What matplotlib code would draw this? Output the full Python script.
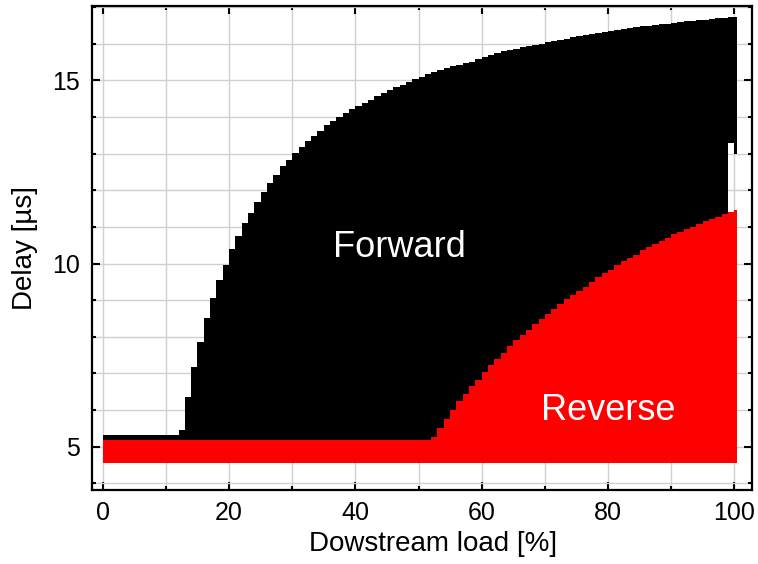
import matplotlib
matplotlib.use('Agg')
import matplotlib.pyplot as plt
from matplotlib.ticker import MultipleLocator
import numpy as np

plt.rcParams['font.family'] = ['Liberation Sans', 'DejaVu Sans']

# downstream load [%], one column per percent
loads = np.arange(0, 101)

# forward delay: upper edge of the black band [us]
fwd_high = [5.33] * 12 + [
    5.46, 6.37, 7.19, 7.87, 8.51, 9.06, 9.56, 9.97, 10.39, 10.76,
    11.10, 11.39, 11.69, 11.94, 12.19, 12.42, 12.65, 12.83, 13.01, 13.18,
    13.35, 13.49, 13.63, 13.77, 13.90, 14.00, 14.12, 14.22, 14.30, 14.39,
    14.47, 14.58, 14.66, 14.75, 14.82, 14.88, 14.96, 15.03, 15.10, 15.17,
    15.23, 15.28, 15.33, 15.38, 15.42, 15.47, 15.51, 15.57, 15.63, 15.68,
    15.74, 15.79, 15.82, 15.86, 15.90, 15.93, 15.97, 16.00, 16.04, 16.07,
    16.11, 16.14, 16.18, 16.20, 16.23, 16.26, 16.29, 16.32, 16.35, 16.37,
    16.40, 16.42, 16.45, 16.47, 16.49, 16.51, 16.53, 16.55, 16.57, 16.59,
    16.61, 16.62, 16.64, 16.66, 16.67, 16.69, 16.70, 16.72, 16.74]
# forward delay: lower edge of the black band [us]
fwd_low = [4.57] * 99 + [13.3, 13.0]

# reverse delay: upper / lower edge of the red band [us]
rev_high = [5.19] * 52 + [
    5.28, 5.51, 5.77, 6.01, 6.24, 6.45, 6.65, 6.83, 7.03, 7.22,
    7.39, 7.57, 7.76, 7.92, 8.06, 8.19, 8.35, 8.49, 8.63, 8.77,
    8.89, 9.03, 9.15, 9.26, 9.37, 9.51, 9.62, 9.74, 9.83, 9.95,
    10.06, 10.15, 10.24, 10.36, 10.44, 10.53, 10.62, 10.71, 10.80, 10.87,
    10.95, 11.01, 11.08, 11.15, 11.22, 11.28, 11.36, 11.42, 11.45]
rev_low = [4.57] * 101


def edges(vals):
    # repeat last value so the final column gets some width
    return np.append(vals, vals[-1])


x = np.append(loads, loads[-1] + 0.5)

fig = plt.figure(figsize=(7.58, 5.64), dpi=100)
ax = fig.add_axes([0.1214, 0.1312, 0.8707, 0.8582])

ax.fill_between(x, edges(fwd_low), edges(fwd_high), step='post',
                color='black', lw=0, zorder=2)
ax.fill_between(x, edges(rev_low), edges(rev_high), step='post',
                color='#ff0000', lw=0, zorder=3)

ax.text(47, 10.45, 'Forward', color='white', fontsize=26,
        ha='center', va='center', zorder=4)
ax.text(80, 6.0, 'Reverse', color='white', fontsize=26,
        ha='center', va='center', zorder=4)

ax.set_xlim(-1.7, 102.8)
ax.set_ylim(3.82, 17.03)
ax.xaxis.set_major_locator(MultipleLocator(20))
ax.xaxis.set_minor_locator(MultipleLocator(10))
ax.yaxis.set_major_locator(MultipleLocator(5))
ax.yaxis.set_minor_locator(MultipleLocator(1))

ax.grid(True, which='both', color='#d0d0d0', lw=1.0, zorder=0)
ax.set_axisbelow(True)

ax.tick_params(which='both', direction='in', top=True, right=True,
               width=1.5, labelsize=18)
ax.tick_params(which='major', length=5.5)
ax.tick_params(which='minor', length=3)
ax.tick_params(axis='x', pad=8)
ax.tick_params(axis='y', pad=9)
for s in ax.spines.values():
    s.set_linewidth(1.6)

ax.set_xlabel('Dowstream load [%]', fontsize=20, labelpad=6)
ax.xaxis.set_label_coords(0.517, -0.085)
ax.set_ylabel('Delay [µs]', fontsize=20, labelpad=10)

fig.savefig('out.png', dpi=100)
